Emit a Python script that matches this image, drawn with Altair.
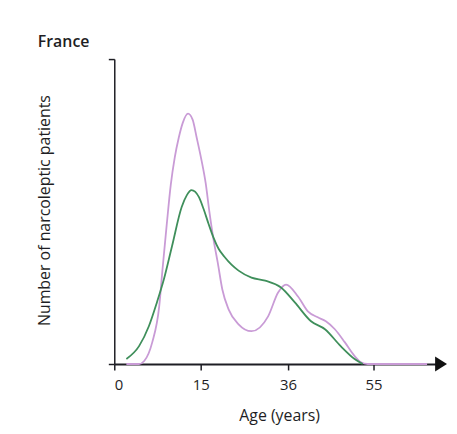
import altair as alt
import pandas as pd

# Age (years) and relative number of patients
pink_age = [2.1, 4.3, 5.2, 6.6, 7.8, 8.4, 9.1, 9.8, 10.5, 11.2, 11.9, 12.8, 13.6, 14.3,
            15.2, 16.2, 17.1, 18.1, 19.1, 20.2, 21.7, 24.1, 27.2, 31.2, 33.6, 35.5,
            38.2, 40.4, 42.6, 44.4, 46.4, 48.6, 50.8, 52.1, 53.7, 66.9]
pink_val = [0, 0, 3, 22, 58, 97, 140, 180, 208, 228, 243, 252, 246, 228,
            205, 182, 153, 125, 102, 75, 55, 40, 33, 48, 72, 80,
            68, 53, 47, 43, 35, 22, 8, 2, 0, 0]

green_age = [2.1, 4.3, 6.0, 7.4, 8.6, 10.0, 11.7, 12.6, 13.4, 14.7, 15.7, 16.9, 18.1,
             19.3, 20.7, 22.4, 24.1, 27.2, 30.5, 34.3, 37.5, 41.1, 44.2, 47.7, 50.8, 52.6]
green_val = [5, 18, 38, 62, 85, 118, 158, 170, 175, 168, 156, 141, 127,
             116, 108, 100, 94, 87, 84, 77, 62, 43, 35, 18, 5, 0]

tick_ages = [0, 15, 36, 55]
series_names = ["Cohort A", "Cohort B"]
series_colors = ["#c99bd6", "#3f8f5b"]

FONT = "Open Sans, Liberation Sans, sans-serif"
INK = "#1e1e24"

df = pd.concat([
    pd.DataFrame({"age": pink_age, "n": pink_val, "series": series_names[0]}),
    pd.DataFrame({"age": green_age, "n": green_val, "series": series_names[1]}),
])

x_scale = alt.Scale(domain=[0, 15, 36, 55, 70], range=[0, 87, 175, 261, 329],
                    nice=False, zero=False)
y_scale = alt.Scale(domain=[0, 307], nice=False)

lines = alt.Chart(df).mark_line(interpolate="monotone", strokeWidth=1.8).encode(
    x=alt.X("age:Q", scale=x_scale,
            axis=alt.Axis(values=tick_ages, title="Age (years)", grid=False,
                          tickSize=6, tickWidth=1.5, tickColor=INK,
                          domainColor=INK, domainWidth=2,
                          labelFont=FONT, labelFontSize=15, labelColor=INK,
                          labelPadding=8, titleFont=FONT, titleFontSize=16,
                          titleFontWeight="normal", titleColor=INK,
                          titleY=52, titleX=166, titleBaseline="middle")),
    y=alt.Y("n:Q", scale=y_scale,
            axis=alt.Axis(values=[0, 307], labels=False, grid=False,
                          title="Number of narcoleptic patients",
                          tickSize=6, tickWidth=1.5, tickColor=INK,
                          domainColor=INK, domainWidth=1.5,
                          titleFont=FONT, titleFontSize=16,
                          titleFontWeight="normal", titleColor=INK,
                          titleX=-70, titleY=152, titleAngle=-90,
                          titleAlign="center", titleBaseline="middle")),
    color=alt.Color("series:N", scale=alt.Scale(domain=series_names, range=series_colors),
                    legend=None),
)

arrow_df = pd.DataFrame({"age": [70], "n": [0]})
arrow = alt.Chart(arrow_df).mark_point(
    shape="M-0.8,-1L0.8,0L-0.8,1Z", filled=True, size=225, color="#111111", opacity=1
).encode(x=alt.X("age:Q", scale=x_scale), y=alt.Y("n:Q", scale=y_scale))

chart = alt.layer(lines, arrow).properties(
    width=329, height=307,
    background="white",
    title=alt.Title("France", anchor="start", frame="group", dx=-77, offset=8,
                    font=FONT, fontSize=16, fontWeight=600, color=INK),
    autosize=alt.AutoSizeParams(type="none"),
    padding={"left": 107, "top": 50, "right": 8, "bottom": 61},
).configure_view(stroke=None)

chart.save("out.html", embed_options={"renderer": "svg", "actions": False})
